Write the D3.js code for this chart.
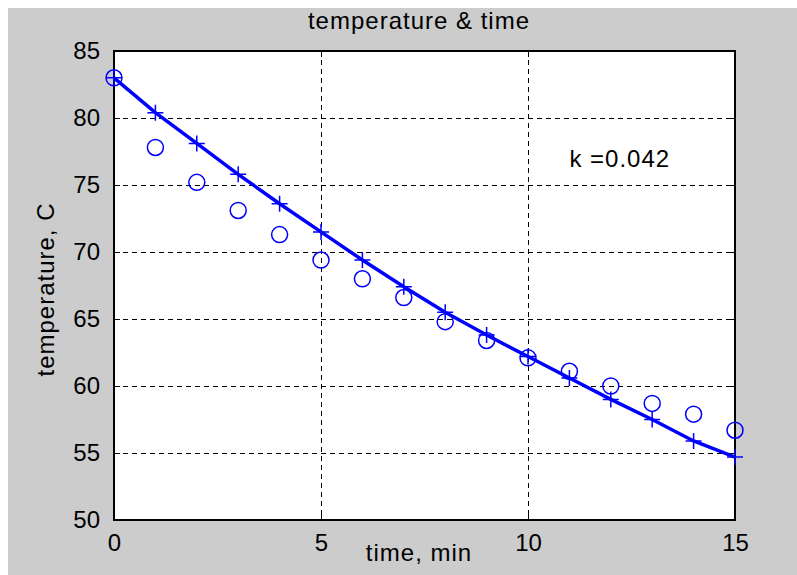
<!DOCTYPE html>
<html>
<head>
<meta charset="utf-8">
<script src="https://cdn.jsdelivr.net/npm/d3@7"></script>
<style>
  body { margin: 0; background: #fff; }
  text { font-family: "Liberation Sans", Arial, sans-serif; fill: #000; }
</style>
</head>
<body>
<svg id="chart" width="797" height="575"></svg>
<script>
// minutes
const time = [0, 1, 2, 3, 4, 5, 6, 7, 8, 9, 10, 11, 12, 13, 14, 15];
// measured temperature (circles)
const measured = [83.0, 77.8, 75.2, 73.1, 71.3, 69.4, 68.0, 66.6, 64.8, 63.4, 62.1, 61.1, 60.0, 58.7, 57.9, 56.7];
// fitted cooling curve (line with + markers)
const fitted = [83.0, 80.4, 78.1, 75.8, 73.6, 71.5, 69.4, 67.4, 65.5, 63.8, 62.2, 60.6, 59.0, 57.5, 55.9, 54.7];
const xTicks = [0, 5, 10, 15];
const yTicks = [50, 55, 60, 65, 70, 75, 80, 85];
const note = { x: 11, y: 77, label: "k =0.042" };

const svg = d3.select("#chart");
const margin = { top: 51, right: 62, bottom: 55, left: 114 };
const width = 797 - margin.left - margin.right;
const height = 575 - margin.top - margin.bottom;

// grey figure background
svg.append("rect")
  .attr("x", 8).attr("y", 8)
  .attr("width", 797 - 8).attr("height", 575 - 8)
  .attr("fill", "#cccccc");

const x = d3.scaleLinear().domain([0, 15]).range([margin.left, margin.left + width]);
const y = d3.scaleLinear().domain([50, 85]).range([margin.top + height, margin.top]);

// plot area
svg.append("rect")
  .attr("x", x(0)).attr("y", y(85))
  .attr("width", x(15) - x(0)).attr("height", y(50) - y(85))
  .attr("fill", "#fff");

// dashed grid
const grid = svg.append("g")
  .attr("stroke", "#000")
  .attr("stroke-width", 1)
  .attr("stroke-dasharray", "5,4")
  .attr("shape-rendering", "crispEdges");
grid.selectAll("line.gx")
  .data(xTicks.filter((d) => d > 0 && d < 15))
  .join("line")
  .attr("x1", (d) => Math.round(x(d)) + 0.5).attr("x2", (d) => Math.round(x(d)) + 0.5)
  .attr("y1", y(85)).attr("y2", y(50));
grid.selectAll("line.gy")
  .data(yTicks.filter((d) => d > 50 && d < 85))
  .join("line")
  .attr("x1", x(0)).attr("x2", x(15))
  .attr("y1", (d) => Math.round(y(d)) + 0.5).attr("y2", (d) => Math.round(y(d)) + 0.5);

// axes with inward ticks
const fontSize = 24;
svg.append("g")
  .attr("transform", `translate(0,${y(50)})`)
  .call(d3.axisBottom(x).tickValues(xTicks).tickSize(-6).tickPadding(14).tickSizeOuter(0))
  .call((g) => g.select(".domain").remove())
  .call((g) => g.selectAll("text").style("font-size", fontSize + "px"));
svg.append("g")
  .attr("transform", `translate(${x(0)},0)`)
  .call(d3.axisLeft(y).tickValues(yTicks).tickSize(-6).tickPadding(14).tickSizeOuter(0))
  .call((g) => g.select(".domain").remove())
  .call((g) => g.selectAll("text").style("font-size", fontSize + "px"));
svg.append("g")
  .attr("transform", `translate(0,${y(85)})`)
  .call(d3.axisTop(x).tickValues(xTicks).tickSize(-6).tickFormat("").tickSizeOuter(0))
  .call((g) => g.select(".domain").remove());
svg.append("g")
  .attr("transform", `translate(${x(15)},0)`)
  .call(d3.axisRight(y).tickValues(yTicks).tickSize(-6).tickFormat("").tickSizeOuter(0))
  .call((g) => g.select(".domain").remove());

// frame
svg.append("rect")
  .attr("x", x(0)).attr("y", y(85))
  .attr("width", x(15) - x(0)).attr("height", y(50) - y(85))
  .attr("fill", "none").attr("stroke", "#000").attr("stroke-width", 2);

// fitted line
const line = d3.line().x((d, i) => x(time[i])).y((d) => y(d));
svg.append("path")
  .datum(fitted)
  .attr("d", line)
  .attr("fill", "none")
  .attr("stroke", "#0000ff")
  .attr("stroke-width", 3.5);

// + markers on fitted curve
const plus = svg.append("g").attr("stroke", "#0000ff").attr("stroke-width", 1.5);
plus.selectAll("path")
  .data(fitted)
  .join("path")
  .attr("d", (d, i) => {
    const cx = x(time[i]), cy = y(d), s = 8;
    return `M${cx - s},${cy}H${cx + s}M${cx},${cy - s}V${cy + s}`;
  });

// measured circles
svg.append("g")
  .selectAll("circle")
  .data(measured)
  .join("circle")
  .attr("cx", (d, i) => x(time[i]))
  .attr("cy", (d) => y(d))
  .attr("r", 8)
  .attr("fill", "none")
  .attr("stroke", "#0000ff")
  .attr("stroke-width", 1.5);

// annotation
svg.append("text")
  .attr("x", x(note.x)).attr("y", y(note.y))
  .attr("dy", "0.35em")
  .style("font-size", fontSize + "px")
  .style("letter-spacing", "1px")
  .text(note.label);

// title and labels
svg.append("text")
  .attr("x", 419).attr("y", 29)
  .attr("text-anchor", "middle")
  .style("font-size", fontSize + "px")
  .style("letter-spacing", "1px")
  .text("temperature & time");
svg.append("text")
  .attr("x", 419).attr("y", 561)
  .attr("text-anchor", "middle")
  .style("font-size", fontSize + "px")
  .style("letter-spacing", "1px")
  .text("time, min");
svg.append("text")
  .attr("transform", `translate(54,${(y(50) + y(85)) / 2 + 4}) rotate(-90)`)
  .attr("text-anchor", "middle")
  .style("font-size", fontSize + "px")
  .style("letter-spacing", "1px")
  .text("temperature, C");
</script>
</body>
</html>
